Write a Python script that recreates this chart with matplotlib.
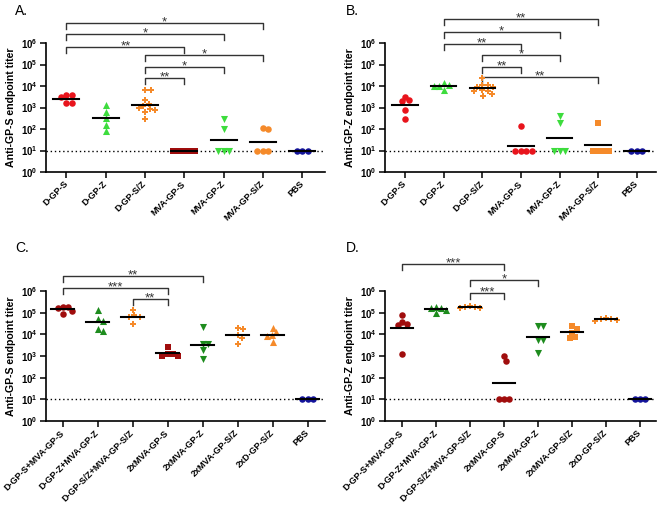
import matplotlib
matplotlib.use('Agg')
from matplotlib import pyplot as plt
from matplotlib.ticker import FixedLocator, NullLocator, FuncFormatter
import numpy as np

plt.rcParams['font.family'] = ['Liberation Sans', 'DejaVu Sans']
plt.rcParams['mathtext.fontset'] = 'custom'
plt.rcParams['mathtext.rm'] = 'Liberation Sans:bold'
plt.rcParams['mathtext.bf'] = 'Liberation Sans:bold'

RED = '#e8141c'
GREEN = '#3ddc3d'
ORANGE = '#f58a2a'
DKRED = '#a00d0d'
DKGREEN = '#1e8c1e'
BLUE = '#14149b'

groups_ab = ['D-GP-S', 'D-GP-Z', 'D-GP-S/Z', 'MVA-GP-S', 'MVA-GP-Z', 'MVA-GP-S/Z', 'PBS']
groups_cd = ['D-GP-S+MVA-GP-S', 'D-GP-Z+MVA-GP-Z', 'D-GP-S/Z+MVA-GP-S/Z', '2xMVA-GP-S',
             '2xMVA-GP-Z', '2xMVA-GP-S/Z', '2xD-GP-S/Z', 'PBS']

# endpoint titers
titer_a = [
    [3630, 3240, 1660, 1660, 3630],
    [1320, 600, 330, 160, 85],
    [6600, 6600, 2290, 1480, 1230, 930, 870, 780, 650, 300],
    [10, 10, 10, 10, 10],
    [300, 100, 10, 10, 10],
    [112, 95, 10, 10, 10],
    [10, 10, 10],
]
titer_b = [
    [3200, 1950, 2300, 780, 290],
    [14000, 9800, 6200, 9800, 11200],
    [24000, 11200, 8900, 8900, 11200, 6200, 5800, 5800, 3600, 4400],
    [145, 10, 10, 10, 10],
    [410, 200, 10, 10, 10],
    [200, 10, 10, 10, 10],
    [10, 10, 10],
]
titer_c = [
    [182000, 158000, 89000, 120000, 182000],
    [129000, 49000, 42000, 17000, 14000],
    [76000, 66000, 66000, 129000, 29000],
    [2700, 1200, 1200, 1000, 1000],
    [22000, 3700, 3700, 1800, 710],
    [17000, 8900, 20000, 6600, 3700],
    [20000, 9300, 13000, 8300, 4500],
    [10, 10, 10],
]
titer_d = [
    [31000, 76000, 27000, 38000, 1200],
    [182000, 158000, 100000, 129000, 170000],
    [204000, 182000, 158000, 158000, 182000],
    [1000, 590, 10, 10, 10],
    [24000, 24000, 5200, 5200, 1400],
    [24000, 18000, 12000, 7100, 7800],
    [55000, 50000, 46000, 43000, 52000],
    [10, 10, 10],
]

colors_a = [RED, GREEN, ORANGE, DKRED, GREEN, ORANGE, BLUE]
markers_a = ['o', '^', 'P', 's', 'v', 'o', 'o']
colors_b = [RED, GREEN, ORANGE, RED, GREEN, ORANGE, BLUE]
markers_b = ['o', '^', 'P', 'o', 'v', 's', 'o']
colors_c = [DKRED, DKGREEN, ORANGE, DKRED, DKGREEN, ORANGE, ORANGE, BLUE]
markers_c = ['o', '^', 'P', 's', 'v', 'P', '^', 'o']
colors_d = [DKRED, DKGREEN, ORANGE, DKRED, DKGREEN, ORANGE, ORANGE, BLUE]
markers_d = ['o', '^', 'P', 'o', 'v', 's', 'P', 'o']

# significance brackets: (group i, group j, log10 height, stars)
sig_a = [(0, 5, 6.93, '*'), (0, 4, 6.42, '*'), (0, 3, 5.81, '**'),
         (2, 5, 5.44, '*'), (2, 4, 4.88, '*'), (2, 3, 4.37, '**')]
sig_b = [(1, 5, 7.12, '**'), (1, 4, 6.51, '*'), (1, 3, 5.95, '**'),
         (2, 4, 5.44, '*'), (2, 3, 4.88, '**'), (2, 5, 4.42, '**')]
sig_c = [(0, 4, 6.69, '**'), (0, 3, 6.14, '***'), (2, 3, 5.63, '**')]
sig_d = [(0, 3, 7.24, '***'), (2, 4, 6.51, '*'), (2, 3, 5.91, '***')]


def swarm(vals, px_cat, px_dec, dist=5.2, step=0.01):
    # simple beeswarm so the points of one group do not pile up
    logs = np.log10(vals)
    order = np.argsort(-logs, kind='stable')
    placed = []
    offs = np.zeros(len(vals))
    cand = [0.0]
    for m in range(1, 150):
        cand += [m * step, -m * step]
    for k in order:
        for c in cand:
            ok = True
            for (px, py) in placed:
                dx = (c - px) * px_cat
                dy = (logs[k] - py) * px_dec
                if dx * dx + dy * dy < dist * dist:
                    ok = False
                    break
            if ok:
                offs[k] = c
                placed.append((c, logs[k]))
                break
    return offs


def panel(rect, xlim, groups, titers, colors, markers, sig, ylabel):
    ax = fig.add_axes(rect)
    ax.set_yscale('log')
    ax.set_ylim(1, 1e6)
    ax.set_xlim(*xlim)
    bb = ax.get_window_extent()
    px_cat = bb.width / (xlim[1] - xlim[0])
    px_dec = bb.height / 6.0

    for i, vals in enumerate(titers):
        vals = np.array(vals, dtype=float)
        offs = swarm(vals, px_cat, px_dec)
        s = 26 if markers[i] in ('^', 'v') else 22
        ax.scatter(i + offs, vals, s=s, marker=markers[i], color=colors[i],
                   linewidths=0, zorder=3)
        gm = 10 ** np.mean(np.log10(vals))
        ax.plot([i - 0.33, i + 0.33], [gm, gm], color='black', lw=1.5, zorder=4)

    ax.axhline(10, color='black', lw=1.0, ls=(0, (1, 2)), zorder=1)

    for (i, j, yl, lab) in sig:
        y0 = 10 ** yl
        y1 = 10 ** (yl - 0.28)
        ax.plot([i, i, j, j], [y1, y0, y0, y1], color='#333333', lw=1.0,
                clip_on=False)
        ax.annotate(lab, ((i + j) / 2, y0), xytext=(0, -1.8),
                    textcoords='offset points', ha='center', va='baseline',
                    fontsize=9.5, color='#333333', annotation_clip=False)

    ax.yaxis.set_major_locator(FixedLocator([10.0 ** k for k in range(7)]))
    ax.yaxis.set_minor_locator(NullLocator())
    ax.yaxis.set_major_formatter(FuncFormatter(
        lambda v, p: r'$\mathbf{10^{%d}}$' % int(round(np.log10(v)))))
    ax.set_xticks(range(len(groups)))
    ax.set_xticklabels(groups, rotation=45, ha='right', va='center',
                       rotation_mode='anchor', fontsize=6.5, fontweight='bold')
    ax.tick_params(axis='y', labelsize=6.9, length=4, width=1.1, pad=2)
    ax.tick_params(axis='x', length=4, width=1.1, pad=3.5)
    for side in ('top', 'right'):
        ax.spines[side].set_visible(False)
    for side in ('left', 'bottom'):
        ax.spines[side].set_linewidth(1.2)
    ax.set_ylabel(ylabel, fontsize=7.6, fontweight='bold', labelpad=4)
    return ax


fig = plt.figure(figsize=(6.58, 5.08), dpi=100)

panel([0.0699, 0.6614, 0.424, 0.2539], (-0.52, 6.58), groups_ab, titer_a,
      colors_a, markers_a, sig_a, 'Anti-GP-S endpoint titer')
panel([0.5851, 0.6614, 0.4119, 0.2539], (-0.52, 6.5), groups_ab, titer_b,
      colors_b, markers_b, sig_b, 'Anti-GP-Z endpoint titer')
panel([0.0699, 0.1713, 0.424, 0.2559], (-0.48, 7.5), groups_cd, titer_c,
      colors_c, markers_c, sig_c, 'Anti-GP-S endpoint titer')
panel([0.5851, 0.1713, 0.4119, 0.2559], (-0.5, 7.47), groups_cd, titer_d,
      colors_d, markers_d, sig_d, 'Anti-GP-Z endpoint titer')

fig.text(15 / 658, 1 - 4 / 508, 'A.', fontsize=10, va='top', ha='left')
fig.text(346 / 658, 1 - 4 / 508, 'B.', fontsize=10, va='top', ha='left')
fig.text(15 / 658, 1 - 241 / 508, 'C.', fontsize=10, va='top', ha='left')
fig.text(346 / 658, 1 - 241 / 508, 'D.', fontsize=10, va='top', ha='left')

fig.savefig('out.png', dpi=100)
